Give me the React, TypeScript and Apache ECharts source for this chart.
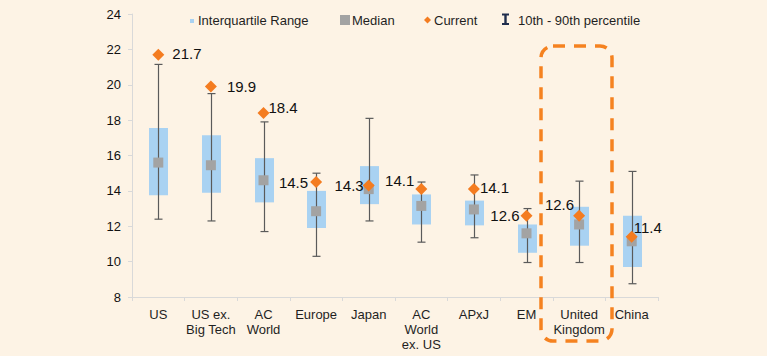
import React, { useEffect, useRef } from "react";
import * as echarts from "echarts";

const categories = [
  "US",
  "US ex.\nBig Tech",
  "AC\nWorld",
  "Europe",
  "Japan",
  "AC\nWorld\nex. US",
  "APxJ",
  "EM",
  "United\nKingdom",
  "China",
];
const p10 = [12.4, 12.3, 11.7, 10.3, 12.3, 11.1, 11.35, 9.95, 9.95, 8.75];
const q1 = [13.75, 13.9, 13.35, 11.9, 13.25, 12.1, 12.05, 10.5, 10.9, 9.7];
const median = [15.6, 15.45, 14.6, 12.85, 14.1, 13.15, 12.95, 11.6, 12.1, 11.15];
const q3 = [17.55, 17.15, 15.85, 14.0, 15.4, 13.8, 13.45, 12.1, 13.1, 12.6];
const p90 = [21.15, 19.5, 17.9, 15.0, 18.1, 14.5, 14.9, 13.0, 14.55, 15.1];
const current = [21.7, 19.9, 18.4, 14.5, 14.3, 14.1, 14.1, 12.6, 12.6, 11.4];

const legendNames = ["Interquartile Range", "Median", "Current", "10th - 90th percentile"];

// label placement (style only)
const labelPlacement: { pos: string; dist: number; dy: number }[] = [
  { pos: "right", dist: 8, dy: -1 },
  { pos: "right", dist: 10, dy: 0 },
  { pos: "right", dist: -1, dy: -6 },
  { pos: "left", dist: 2, dy: 0 },
  { pos: "left", dist: -1, dy: 0 },
  { pos: "left", dist: 1, dy: -9 },
  { pos: "right", dist: 0, dy: -2 },
  { pos: "left", dist: 1, dy: 0 },
  { pos: "left", dist: -1, dy: -11 },
  { pos: "right", dist: -4, dy: -9 },
];

const FONT = "'Liberation Sans', Arial, sans-serif";
const BLUE = "#A9D2F2";
const GRAY = "#A3A3A3";
const ORANGE = "#F47C20";
const WHISKER = "#5A5A5A";
const BG = "#FDF3E5";

export default function App() {
  const ref = useRef<HTMLDivElement>(null);

  useEffect(() => {
    document.body.style.margin = "0";
    const chart = echarts.init(ref.current!, null, { renderer: "svg" });

    const boxData = categories.map((_, i) => [i, p10[i], q1[i], q3[i], p90[i]]);

    const legendText = (x: number, text: string) => ({
      type: "text",
      x,
      y: 20,
      style: { text, fontSize: 13, fill: "#1F1F1F", fontFamily: FONT, verticalAlign: "middle" },
    });

    const option: any = {
      animation: false,
      backgroundColor: BG,
      textStyle: { fontFamily: FONT },
      grid: { left: 132, right: 109, top: 14, bottom: 59, containLabel: false },
      xAxis: {
        type: "category",
        data: categories,
        boundaryGap: true,
        axisLine: { show: true, lineStyle: { color: "#D9D9D9", width: 1 } },
        axisTick: { show: true, length: 4, lineStyle: { color: "#D9D9D9" } },
        axisLabel: {
          fontSize: 13,
          lineHeight: 15,
          margin: 10,
          color: "#1F1F1F",
          fontFamily: FONT,
          interval: 0,
        },
      },
      yAxis: {
        type: "value",
        min: 8,
        max: 24,
        interval: 2,
        axisLine: { show: true, lineStyle: { color: "#D9D9D9", width: 1 } },
        axisTick: { show: true, length: 4, lineStyle: { color: "#D9D9D9" } },
        splitLine: { show: false },
        axisLabel: { fontSize: 13, margin: 11, color: "#111", fontFamily: FONT },
      },
      series: [
        {
          name: legendNames[0],
          type: "custom",
          z: 2,
          data: boxData,
          encode: { x: 0, y: [1, 2, 3, 4] },
          renderItem: (params: any, api: any) => {
            const idx = api.value(0);
            const lo = api.coord([idx, api.value(1)]);
            const b1 = api.coord([idx, api.value(2)]);
            const b3 = api.coord([idx, api.value(3)]);
            const hi = api.coord([idx, api.value(4)]);
            const cx = Math.round(lo[0]) + 0.5;
            const bw = 19;
            const cap = 8;
            return {
              type: "group",
              children: [
                {
                  type: "rect",
                  shape: { x: cx - bw / 2, y: b3[1], width: bw, height: b1[1] - b3[1] },
                  style: { fill: BLUE },
                },
                {
                  type: "line",
                  shape: { x1: cx, y1: hi[1], x2: cx, y2: lo[1] },
                  style: { stroke: WHISKER, lineWidth: 1.2 },
                },
                {
                  type: "line",
                  shape: { x1: cx - cap / 2, y1: hi[1], x2: cx + cap / 2, y2: hi[1] },
                  style: { stroke: WHISKER, lineWidth: 1.2 },
                },
                {
                  type: "line",
                  shape: { x1: cx - cap / 2, y1: lo[1], x2: cx + cap / 2, y2: lo[1] },
                  style: { stroke: WHISKER, lineWidth: 1.2 },
                },
              ],
            };
          },
        },
        {
          name: legendNames[1],
          type: "scatter",
          z: 3,
          symbol: "rect",
          symbolSize: 10,
          itemStyle: { color: GRAY, opacity: 1 },
          data: median.map((v, i) => [i, v]),
        },
        {
          name: legendNames[2],
          type: "scatter",
          z: 4,
          symbol: "diamond",
          symbolSize: 12,
          itemStyle: { color: ORANGE, opacity: 1 },
          data: current.map((v, i) => ({
            value: [i, v],
            label: {
              show: true,
              position: labelPlacement[i].pos,
              distance: labelPlacement[i].dist,
              offset: [0, labelPlacement[i].dy],
              formatter: v.toFixed(1),
              fontSize: 15,
              color: "#111",
              fontFamily: FONT,
            },
          })),
        },
      ],
      graphic: [
        // legend
        { type: "rect", shape: { x: 190, y: 19, width: 4, height: 4 }, style: { fill: BLUE } },
        legendText(198, legendNames[0]),
        { type: "rect", shape: { x: 340, y: 15, width: 10, height: 10 }, style: { fill: GRAY } },
        legendText(352, legendNames[1]),
        {
          type: "polygon",
          shape: { points: [[427.5, 16.5], [431, 20], [427.5, 23.5], [424, 20]] },
          style: { fill: ORANGE },
        },
        legendText(434, legendNames[2]),
        { type: "rect", shape: { x: 502, y: 13.5, width: 7, height: 2 }, style: { fill: "#1F2D4D" } },
        { type: "rect", shape: { x: 504.3, y: 14, width: 2.4, height: 10 }, style: { fill: "#1F2D4D" } },
        { type: "rect", shape: { x: 502, y: 23, width: 7, height: 2 }, style: { fill: "#1F2D4D" } },
        legendText(518, legendNames[3]),
        // highlight box around United Kingdom
        {
          type: "rect",
          z: 10,
          shape: { x: 541, y: 46, width: 71, height: 295, r: 12 },
          style: { fill: "none", stroke: "#F58220", lineWidth: 3.5, lineDash: [12, 9] },
        },
      ],
    };

    chart.setOption(option);
    return () => chart.dispose();
  }, []);

  return (
    <div
      ref={ref}
      style={{ position: "fixed", left: 0, top: 0, width: 767, height: 356 }}
    />
  );
}
